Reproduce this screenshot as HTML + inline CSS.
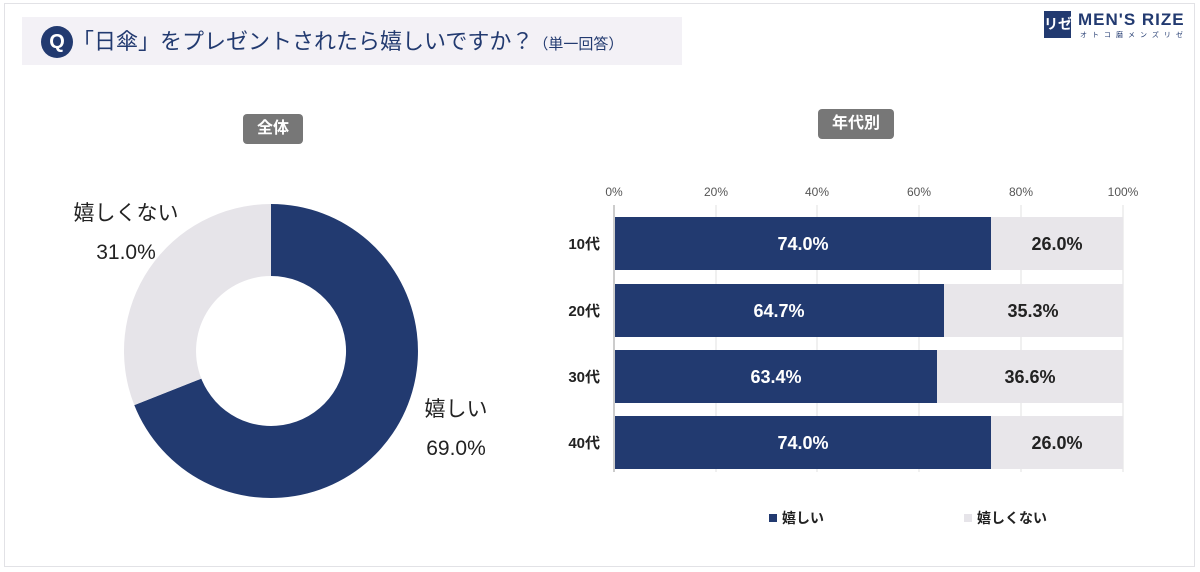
<!DOCTYPE html>
<html><head><meta charset="utf-8"><style>
body{margin:0;background:#fff;font-family:"Liberation Sans","Noto Sans CJK JP",sans-serif;}
.page{position:relative;width:1200px;height:572px;overflow:hidden;background:#fff}
.abs{position:absolute}
</style></head><body><div class="page">
<div class="abs" style="left:4px;top:3px;width:1189px;height:562px;border:1px solid #e2e2e6;"></div>
<div class="abs" style="left:22px;top:17px;width:660px;height:48px;background:#f3f1f6;"></div>
<div class="abs" style="left:41px;top:26px;width:32px;height:32px;border-radius:50%;background:#223a70;color:#fff;font-weight:bold;font-size:20px;text-align:center;line-height:32px;">Q</div>
<div class="abs" style="left:72px;top:27px;font-size:22px;color:#223a70;line-height:30px;white-space:nowrap;">「日傘」をプレゼントされたら嬉しいですか？<span style="font-size:15px;">（単一回答）</span></div>
<div class="abs" style="left:1044px;top:11px;width:27px;height:27px;background:#223a70;color:#fff;font-size:14px;text-align:center;line-height:27px;font-weight:bold;white-space:nowrap;">リゼ</div>
<div class="abs" style="left:1078px;top:10px;font-size:17px;font-weight:bold;color:#223a70;letter-spacing:1px;white-space:nowrap;">MEN'S RIZE</div>
<div class="abs" style="left:1080px;top:30px;font-size:7px;color:#223a70;letter-spacing:5px;white-space:nowrap;">オトコ磨メンズリゼ</div>
<div class="abs" style="left:243px;top:114px;width:60px;height:30px;border-radius:4px;background:#777;color:#fff;font-size:16px;text-align:center;line-height:30px;font-weight:bold;">全体</div>
<div class="abs" style="left:818px;top:109px;width:76px;height:30px;border-radius:4px;background:#777;color:#fff;font-size:16px;text-align:center;line-height:30px;font-weight:bold;">年代別</div>
<svg class="abs" style="left:0;top:0" width="1200" height="572">
<path d="M271,204 A147,147 0 1 1 134.3,405.1 L201.3,378.6 A75,75 0 1 0 271,276 Z" fill="#223a70"/>
<path d="M134.3,405.1 A147,147 0 0 1 271,204 L271,276 A75,75 0 0 0 201.3,378.6 Z" fill="#e6e4e9"/>
<g stroke="#e2e2e2" stroke-width="1">
<line x1="716" y1="205" x2="716" y2="472"/><line x1="817" y1="205" x2="817" y2="472"/><line x1="919" y1="205" x2="919" y2="472"/><line x1="1021" y1="205" x2="1021" y2="472"/><line x1="1123" y1="205" x2="1123" y2="472"/>
</g>
<line x1="614" y1="205" x2="614" y2="472" stroke="#ccc" stroke-width="2"/>
<g font-size="12" fill="#555" text-anchor="middle">
<text x="614" y="196">0%</text><text x="716" y="196">20%</text><text x="817" y="196">40%</text><text x="919" y="196">60%</text><text x="1021" y="196">80%</text><text x="1123" y="196">100%</text>
</g>
<g fill="#223a70">
<rect x="615" y="217" width="376" height="53"/><rect x="615" y="284" width="329" height="53"/><rect x="615" y="350" width="322" height="53"/><rect x="615" y="416" width="376" height="53"/>
</g>
<g fill="#e8e6ea">
<rect x="991" y="217" width="132" height="53"/><rect x="944" y="284" width="179" height="53"/><rect x="937" y="350" width="186" height="53"/><rect x="991" y="416" width="132" height="53"/>
</g>
<g font-size="18" fill="#fff" text-anchor="middle" font-weight="bold">
<text x="803" y="250">74.0%</text><text x="779" y="317">64.7%</text><text x="776" y="383">63.4%</text><text x="803" y="449">74.0%</text>
</g>
<g font-size="18" fill="#222" text-anchor="middle" font-weight="bold">
<text x="1057" y="250">26.0%</text><text x="1033" y="317">35.3%</text><text x="1030" y="383">36.6%</text><text x="1057" y="449">26.0%</text>
</g>
<g font-size="15" fill="#222" font-weight="bold" text-anchor="end">
<text x="600" y="249">10代</text><text x="600" y="316">20代</text><text x="600" y="382">30代</text><text x="600" y="448">40代</text>
</g>
<rect x="769" y="514" width="8" height="8" fill="#223a70"/>
<text x="782" y="523" font-size="14" fill="#222" font-weight="bold">嬉しい</text>
<rect x="964" y="514" width="8" height="8" fill="#e6e4e9"/>
<text x="977" y="523" font-size="14" fill="#222" font-weight="bold">嬉しくない</text>
<g font-size="21" fill="#222" text-anchor="middle">
<text x="126" y="220">嬉しくない</text><text x="126" y="259">31.0%</text>
<text x="456" y="416">嬉しい</text><text x="456" y="455">69.0%</text>
</g>
</svg>
</div></body></html>
